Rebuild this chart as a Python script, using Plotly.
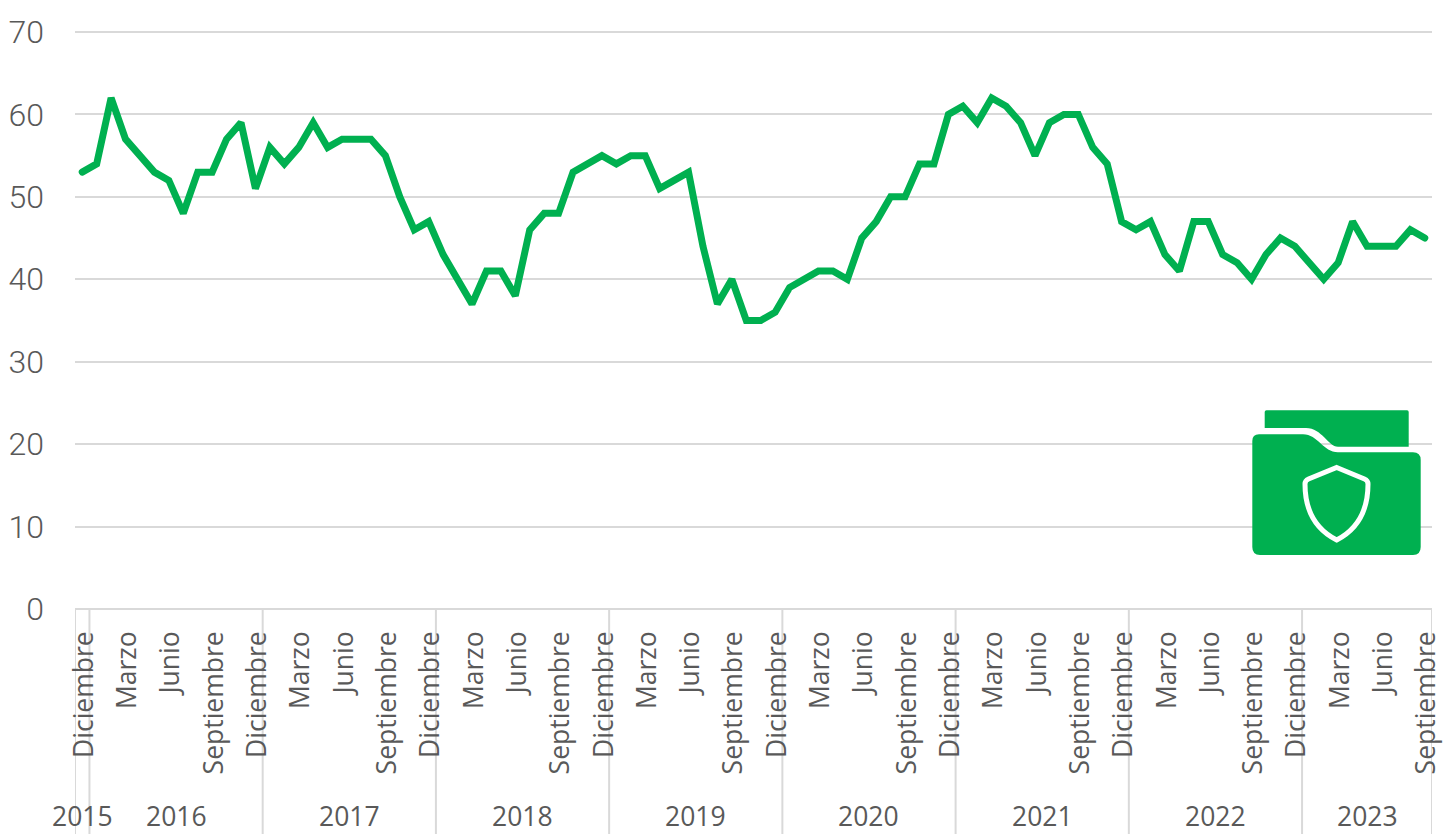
import plotly.graph_objects as go

values = [53,54,62,57,55,53,52,48,53,53,57,59,
          51,56,54,56,59,56,57,57,57,55,50,46,
          47,43,40,37,41,41,38,46,48,48,53,54,
          55,54,55,55,51,52,53,44,37,40,35,35,
          36,39,40,41,41,40,45,47,50,50,54,54,
          60,61,59,62,61,59,55,59,60,60,56,54,
          47,46,47,43,41,47,47,43,42,40,43,45,
          44,42,40,42,47,44,44,44,46,45]
month_cycle = ["Diciembre", "Marzo", "Junio", "Septiembre"]
years = ["2015", "2016", "2017", "2018", "2019", "2020", "2021", "2022", "2023"]
months_in_year = [1, 12, 12, 12, 12, 12, 12, 12, 9]
y_ticks = [0, 10, 20, 30, 40, 50, 60, 70]

W, H = 1449, 834
L, R, T, B = 75, 17, 32, 225
GREEN = "#00B050"
GREY = "#D9D9D9"
TEXT = "#595959"

x = list(range(len(values)))
tickvals = x[::3]
ticktext = [month_cycle[i % 4] for i in range(len(tickvals))]


def px(xp):
    return (xp - L) / (W - L - R)


def py(yp):
    return (H - B - yp) / (H - T - B)


def path(cmds):
    out = []
    for c in cmds:
        if isinstance(c, str):
            out.append(c)
        else:
            out.append(f"{px(c[0]):.5f},{py(c[1]):.5f}")
    return " ".join(out)


shapes = [dict(type="line", xref="paper", yref="paper", x0=0, x1=1, y0=1, y1=1,
               line=dict(color=GREY, width=2), layer="below")]
annotations = []
edge = -0.5
bounds = [edge]
for y_label, n in zip(years, months_in_year):
    annotations.append(dict(
        x=edge + n / 2, xref="x", y=py(816), yref="paper", text=y_label, showarrow=False,
        xanchor="center", yanchor="middle",
        font=dict(family="Open Sans", size=26.5, color=TEXT)))
    edge += n
    bounds.append(edge)
for b in bounds:
    shapes.append(dict(type="line", xref="x", yref="paper", x0=b, x1=b, y0=py(609), y1=py(834),
                       line=dict(color=GREY, width=2), layer="below"))

back_tab = path(["M", (1266.5, 410.3), "L", (1407, 410.3), "Q", (1408.7, 410.3), (1408.7, 412), "L", (1408.7, 446.7),
                 "L", (1338, 446.7), "C", (1328, 446.7), (1322, 428), (1306, 428), "L", (1264.7, 428),
                 "L", (1264.7, 412), "Q", (1264.7, 410.3), (1266.5, 410.3), "Z"])
front = path(["M", (1259, 434.3), "L", (1303, 434.3), "C", (1318, 434.3), (1323, 452.3), (1338, 452.3),
              "L", (1413, 452.3), "Q", (1420.7, 452.3), (1420.7, 460), "L", (1420.7, 547),
              "Q", (1420.7, 555), (1413, 555), "L", (1260, 555), "Q", (1252.3, 555), (1252.3, 547),
              "L", (1252.3, 441), "Q", (1252.3, 434.3), (1259, 434.3), "Z"])
shield = path(["M", (1336.7, 467.5), "L", (1364.5, 479), "Q", (1368, 480.5), (1368, 484),
               "C", (1368, 510), (1358, 529), (1336.7, 540), "C", (1315, 529), (1305, 510), (1305, 484),
               "Q", (1305, 480.5), (1308.5, 479), "Z"])
shapes += [
    dict(type="path", xref="paper", yref="paper", path=back_tab, fillcolor=GREEN, line=dict(width=0), layer="above"),
    dict(type="path", xref="paper", yref="paper", path=front, fillcolor=GREEN, line=dict(width=0), layer="above"),
    dict(type="path", xref="paper", yref="paper", path=shield, fillcolor="rgba(0,0,0,0)",
         line=dict(color="white", width=5), layer="above"),
]

fig = go.Figure(go.Scatter(x=x, y=values, mode="lines", line=dict(color=GREEN, width=7), hoverinfo="skip"))
fig.update_layout(
    width=W, height=H, margin=dict(l=L, r=R, t=T, b=B, pad=0),
    paper_bgcolor="white", plot_bgcolor="white", showlegend=False,
    shapes=shapes, annotations=annotations,
    xaxis=dict(range=[-0.5, len(values) - 0.5], tickmode="array", tickvals=tickvals, ticktext=ticktext,
               tickangle=-90, showgrid=False, zeroline=False, showline=False, ticks="", automargin=False,
               ticklabelstandoff=16, ticklabelshift=2,
               tickfont=dict(family="Open Sans", size=26.5, color=TEXT)),
    yaxis=dict(range=[0, 70], tickmode="array", tickvals=y_ticks, showgrid=True, gridcolor=GREY, gridwidth=2,
               zeroline=True, zerolinecolor=GREY, zerolinewidth=2, showline=False, ticks="", automargin=False,
               ticklabelstandoff=30, tickfont=dict(family="Roboto", size=32, color=TEXT, weight=300)),
)
fig.write_html("out.html", config=dict(displayModeBar=False),
               post_script="document.body.style.margin='0';document.body.style.overflow='hidden';"
                           "document.querySelectorAll('.js-line').forEach(function(p){p.style.strokeLinecap='round';});")
